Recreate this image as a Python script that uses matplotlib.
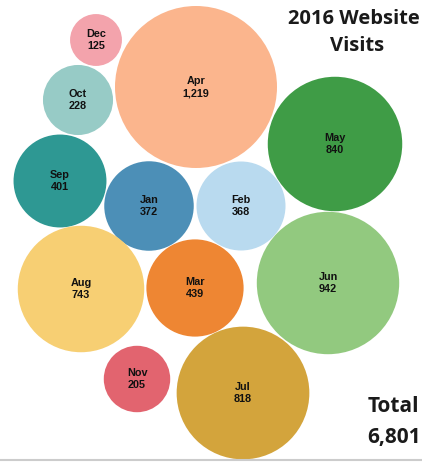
"""
2016 website visits by month, drawn as packed bubbles
"""

import numpy as np
import matplotlib.pyplot as plt
from matplotlib.patches import Circle

months = ['Dec', 'Apr', 'Oct', 'May', 'Sep', 'Jan', 'Feb', 'Jun', 'Aug', 'Mar', 'Nov', 'Jul']
visits = [125, 1219, 228, 840, 401, 372, 368, 942, 743, 439, 205, 818]
total_label = '6,801'

# bubble centres in pixel space (y grows downwards)
centres = [(96, 40), (196, 87), (78, 100), (335, 144), (60, 181), (149, 206),
           (241, 206), (328, 283), (81, 289), (195, 288), (137, 379), (243, 393)]
colours = ['#F3A3AC', '#FBB58D', '#97CBC6', '#3F9C46', '#2E9893', '#4C8FB7',
           '#B9DAEF', '#92C97F', '#F7CF73', '#EE8633', '#E2646F', '#D3A43C']

W, H = 422, 462
fig = plt.figure(figsize=(W / 100, H / 100), dpi=100)
ax = fig.add_axes([0, 0, 1, 1])
ax.set_xlim(0, W)
ax.set_ylim(H, 0)
ax.set_aspect('equal')
ax.axis('off')

# area proportional to visits
scale = 81 / np.sqrt(max(visits))
for m, v, (cx, cy), c in zip(months, visits, centres, colours):
    r = scale * np.sqrt(v)
    ax.add_patch(Circle((cx, cy), r, facecolor=c, edgecolor='none'))
    ax.text(cx, cy - 6, m, ha='center', va='center', fontsize=7.8,
            fontweight='bold', color='#111111', family='Liberation Sans')
    ax.text(cx, cy + 6, f'{v:,}', ha='center', va='center', fontsize=7.8,
            fontweight='bold', color='#111111', family='Liberation Sans')

ax.text(420, 19, '2016 Website', ha='right', va='center', fontsize=14.5,
        fontweight='bold', color='#1a1a1a', family='Open Sans')
ax.text(357, 46, 'Visits', ha='center', va='center', fontsize=14.5,
        fontweight='bold', color='#1a1a1a', family='Open Sans')
ax.text(419, 407, 'Total', ha='right', va='center', fontsize=15,
        fontweight='bold', color='#1a1a1a', family='Open Sans')
ax.text(421, 437, total_label, ha='right', va='center', fontsize=15,
        fontweight='bold', color='#1a1a1a', family='Open Sans')

ax.axhline(460, color='#cccccc', lw=1.5)

plt.savefig('out.png', dpi=100)
